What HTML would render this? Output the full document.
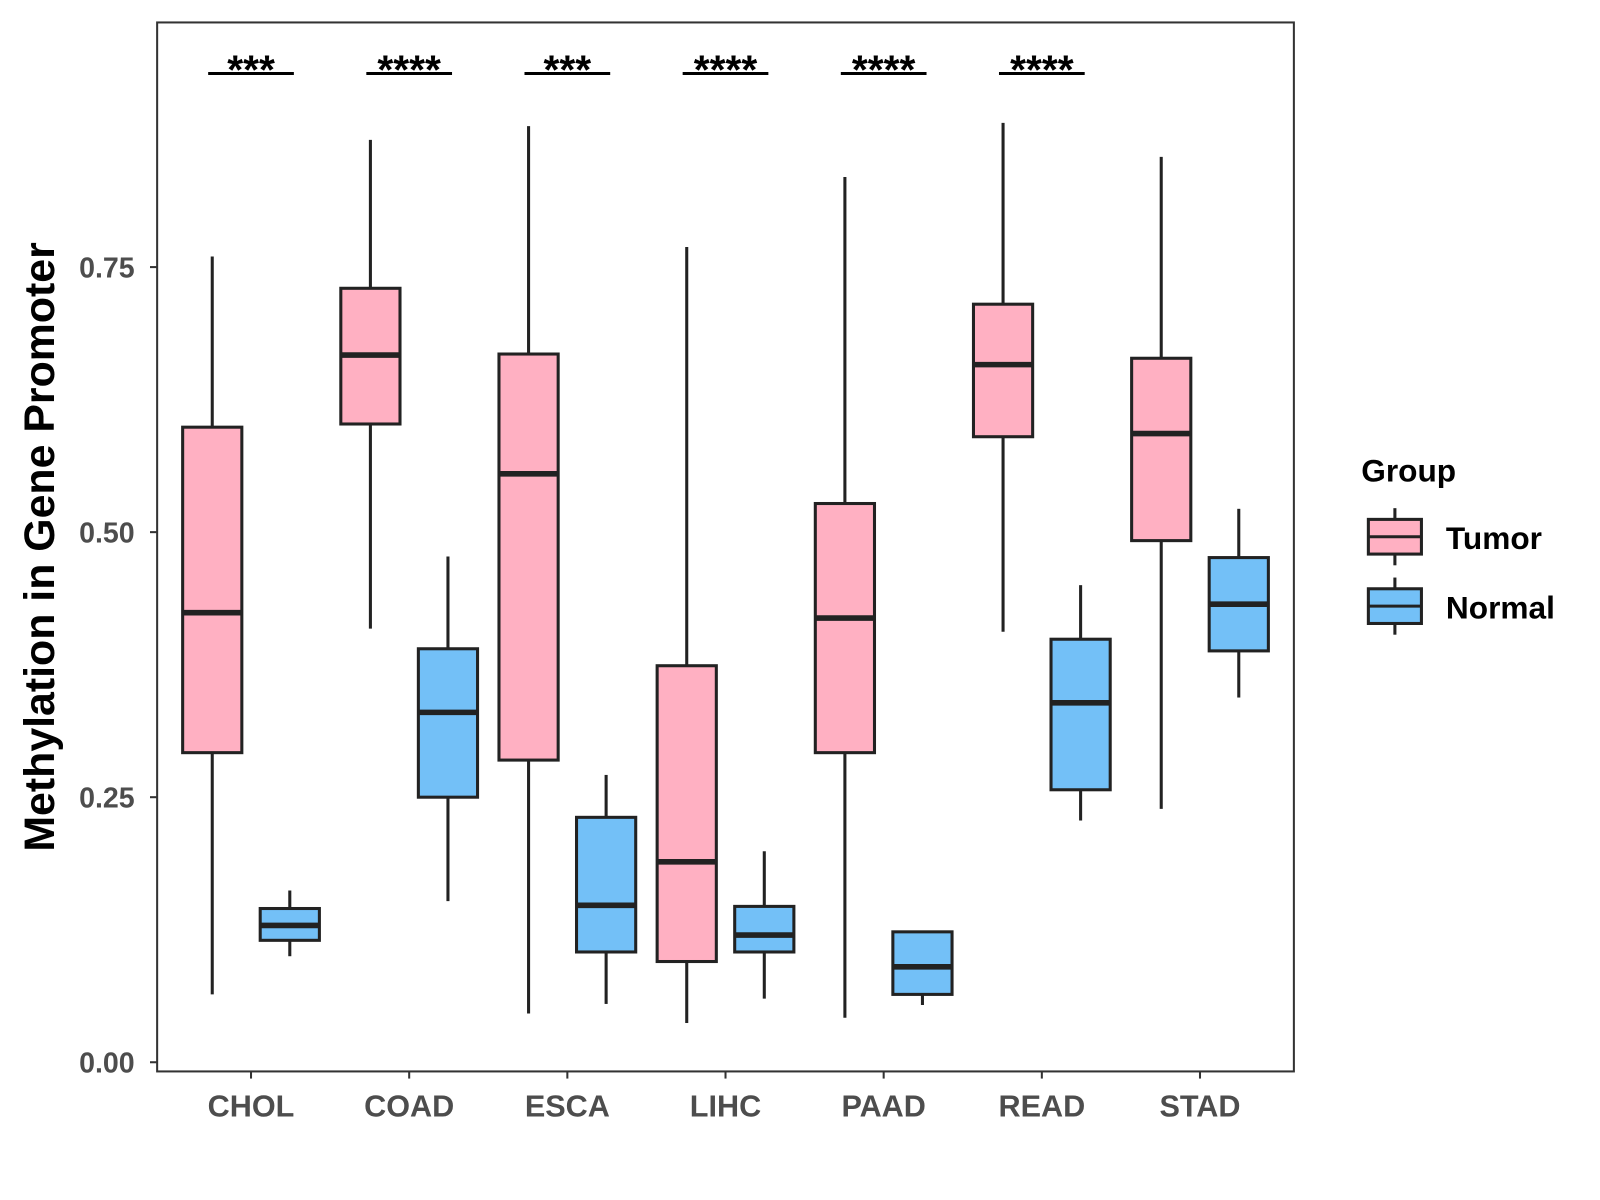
<!DOCTYPE html>
<html><head><meta charset="utf-8"><style>
html,body{margin:0;padding:0;background:#fff}
svg{display:block;font-family:"Liberation Sans",Arial,sans-serif}
</style></head><body>
<svg id="chart" width="1600" height="1200" viewBox="0 0 1568 1176" xmlns="http://www.w3.org/2000/svg">
<rect x="154" y="22" width="1114" height="1028" fill="#fff" stroke="#333" stroke-width="2"/>
<g id="marks"></g>
<text transform="translate(53,536) rotate(-90)" text-anchor="middle" font-size="42" font-weight="bold" fill="#000">Methylation in Gene Promoter</text>
<g>
<text x="1334" y="472" font-size="31" font-weight="bold">Group</text>
<g>
<line x1="1367" y1="498" x2="1367" y2="554" stroke="#222" stroke-width="3"/>
<rect x="1341" y="509" width="52" height="34" fill="#FFB0C2" stroke="#222" stroke-width="3"/>
<line x1="1341" y1="526" x2="1393" y2="526" stroke="#222" stroke-width="3"/>
<text x="1417" y="538" font-size="31" font-weight="bold">Tumor</text></g>
<g>
<line x1="1367" y1="566" x2="1367" y2="622" stroke="#222" stroke-width="3"/>
<rect x="1341" y="577" width="52" height="34" fill="#73C0F7" stroke="#222" stroke-width="3"/>
<line x1="1341" y1="594" x2="1393" y2="594" stroke="#222" stroke-width="3"/>
<text x="1417" y="606" font-size="31" font-weight="bold">Normal</text></g>
</g>
</svg>
<script>
const categories=["CHOL","COAD","ESCA","LIHC","PAAD","READ","STAD"];
const tumorMin=[0.064,0.409,0.046,0.037,0.042,0.406,0.239];
const tumorQ1=[0.292,0.602,0.285,0.095,0.292,0.590,0.492];
const tumorMed=[0.424,0.667,0.555,0.189,0.419,0.658,0.593];
const tumorQ3=[0.599,0.730,0.668,0.374,0.527,0.715,0.664];
const tumorMax=[0.760,0.870,0.883,0.769,0.835,0.886,0.854];
const normalMin=[0.100,0.152,0.055,0.060,0.054,0.228,0.344];
const normalQ1=[0.115,0.250,0.104,0.104,0.064,0.257,0.388];
const normalMed=[0.129,0.330,0.148,0.120,0.090,0.339,0.432];
const normalQ3=[0.145,0.390,0.231,0.147,0.123,0.399,0.476];
const normalMax=[0.162,0.477,0.271,0.199,0.123,0.450,0.522];
const sigLabels=["***","****","***","****","****","****",""];
const yTicks=[0,0.25,0.5,0.75];
const yTickLabels=["0.00","0.25","0.50","0.75"];

const NS="http://www.w3.org/2000/svg";
const g=document.getElementById('marks');
const y=v=>1041-v*1039;
const x=i=>246+i*155;
function mk(tag,at,parent){const e=document.createElementNS(NS,tag);for(const k in at)e.setAttribute(k,at[k]);(parent||g).appendChild(e);return e;}

yTicks.forEach((t,i)=>{
  const tk=mk('line',{x1:147,x2:154,y1:y(t),y2:y(t),stroke:'#333','stroke-width':2});
  
  
  const tl=mk('text',{x:132,y:y(t)+10,'text-anchor':'end','font-size':28,'font-weight':'bold',fill:'#4d4d4d'});
  tl.textContent=yTickLabels[i];
  
  
});

function box(cx,mn,q1,md,q3,mx,fill,name){
  const grp=mk('g',{});
  
  
  mk('line',{x1:cx,x2:cx,y1:y(mx),y2:y(q3),stroke:'#222','stroke-width':3},grp);
  mk('line',{x1:cx,x2:cx,y1:y(q1),y2:y(mn),stroke:'#222','stroke-width':3},grp);
  mk('rect',{x:cx-29,y:y(q3),width:58,height:y(q1)-y(q3),fill:fill,stroke:'#222','stroke-width':3},grp);
  mk('line',{x1:cx-29,x2:cx+29,y1:y(md),y2:y(md),stroke:'#222','stroke-width':5.5},grp);
}

categories.forEach((c,i)=>{
  box(x(i)-38,tumorMin[i],tumorQ1[i],tumorMed[i],tumorQ3[i],tumorMax[i],'#FFB0C2','box-tumor-'+c.toLowerCase());
  box(x(i)+38,normalMin[i],normalQ1[i],normalMed[i],normalQ3[i],normalMax[i],'#73C0F7','box-normal-'+c.toLowerCase());
  const tk=mk('line',{x1:x(i),x2:x(i),y1:1050,y2:1057,stroke:'#333','stroke-width':2});
  
  
  const tl=mk('text',{x:x(i),y:1094,'text-anchor':'middle','font-size':30,'font-weight':'bold',fill:'#4d4d4d'});
  tl.textContent=c;
  
  
  if(sigLabels[i]){
    const sl=mk('line',{x1:x(i)-42,x2:x(i)+42,y1:72,y2:72,stroke:'#000','stroke-width':3});
    
    
    const st=mk('text',{x:x(i),y:82,'text-anchor':'middle','font-size':40,'font-weight':'bold',fill:'#000'});
    st.textContent=sigLabels[i];
    
    
  }
});
</script>
</body></html>
